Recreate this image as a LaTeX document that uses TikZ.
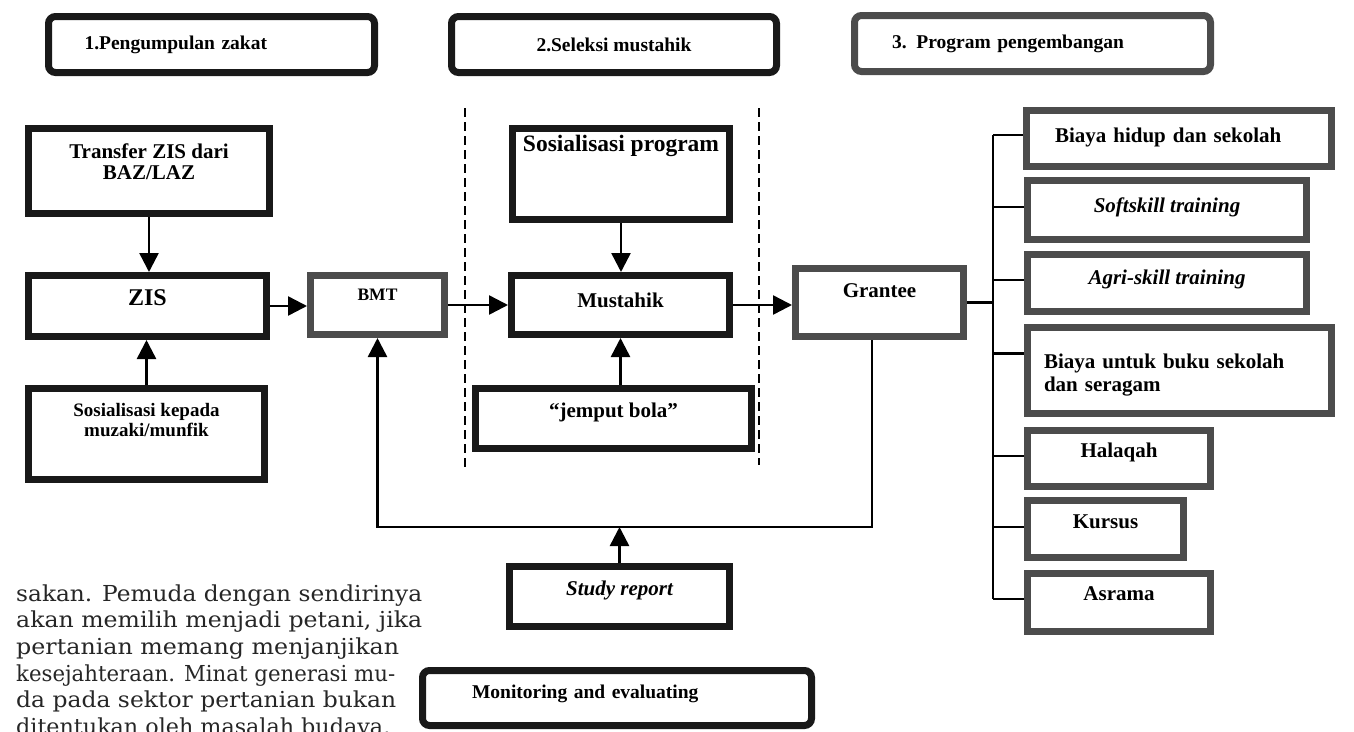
\documentclass[tikz,border=0pt]{standalone}
\usepackage{graphicx}
\usepackage{fontspec}
\setmainfont{Liberation Serif}
\newfontfamily\bodyfont{DejaVu Serif}
\usetikzlibrary{arrows.meta}

\definecolor{inkblack}{gray}{0.1}
\definecolor{edgegray}{gray}{0.3}
\newcommand{\fitline}[2]{\resizebox{#1}{\height}{#2}}

\begin{document}
\begin{tikzpicture}[x=1pt, y=-1pt, >={Triangle[length=19pt,width=19pt]}, blk/.style={draw=inkblack, line width=7pt, inner sep=0pt, align=center, font=\bfseries\fontsize{21}{21}\selectfont}, gry/.style={blk, draw=edgegray}, hdr/.style={blk, rounded corners=7pt, font=\bfseries\fontsize{19.5}{20}\selectfont}, itl/.style={font=\bfseries\itshape\fontsize{21}{21}\selectfont}, arr/.style={->, line width=2.5pt}, link/.style={line width=2.2pt}, sep/.style={line width=2pt, dash pattern=on 9pt off 5pt}]

\useasboundingbox (0,0) rectangle (1354,731);
\clip (0,0) rectangle (1354,731);

\node[hdr, minimum width=326pt, minimum height=56pt, text width=326pt, align=left] (h1) at (211.5,44.5) {\hspace*{36pt}1.Pengumpulan zakat};
\node[hdr, minimum width=325pt, minimum height=56pt] (h2) at (614,44.5) {2.Seleksi mustahik};
\node[hdr, draw=edgegray, minimum width=356pt, minimum height=56pt, text width=356pt, align=left] (h3) at (1032.5,43.5) {\hspace*{37.5pt}3. Program pengembangan};

\node[blk, minimum width=241pt, minimum height=85pt, text depth=18pt] (trans) at (149,171) {Transfer ZIS dari\\BAZ/LAZ};
\node[blk, minimum width=238pt, minimum height=61pt, text depth=16pt, font=\bfseries\fontsize{24}{24}\selectfont] (zis) at (147.5,306) {ZIS};
\node[blk, minimum width=236pt, minimum height=91pt, text depth=28pt, font=\bfseries\fontsize{19}{20}\selectfont] (soskep) at (146.5,434) {Sosialisasi kepada\\muzaki/munfik};
\node[gry, minimum width=134pt, minimum height=59pt, text depth=20pt, font=\bfseries\fontsize{17.5}{18}\selectfont] (bmt) at (377.5,305) {BMT};

\node[blk, minimum width=217pt, minimum height=91pt, text depth=62pt, font=\bfseries\fontsize{23.5}{24}\selectfont] (sosprog) at (621,174) {Sosialisasi program};
\node[blk, minimum width=218pt, minimum height=59pt, text depth=10pt] (must) at (620.5,305) {Mustahik};
\node[blk, minimum width=276pt, minimum height=60pt, text depth=16pt] (jemput) at (613.5,418.5) {“jemput bola”};
\node[gry, minimum width=168pt, minimum height=68pt, text depth=24pt] (grant) at (879.5,302.5) {Grantee};
\node[blk, itl, minimum width=220pt, minimum height=60pt, text depth=16pt] (study) at (619.5,596.5) {Study report};
\node[hdr, minimum width=389pt, minimum height=55pt, text width=389pt, align=left, text depth=12pt] (monit) at (617,698) {\hspace*{49.5pt}Monitoring and evaluating};

\node[gry, minimum width=305pt, minimum height=56pt, text width=305pt, align=left, text depth=7pt] (r1) at (1179,138.5) {\hspace*{28.5pt}Biaya hidup dan sekolah};
\node[gry, itl, minimum width=279pt, minimum height=59pt, text depth=10pt] (r2) at (1167,210) {Softskill training};
\node[gry, itl, minimum width=279pt, minimum height=57pt, text depth=12pt] (r3) at (1167,283) {Agri-skill training};
\node[gry, minimum width=304pt, minimum height=86pt, text width=304pt, align=left, text depth=18pt, font=\bfseries\fontsize{21}{23}\selectfont] (r4) at (1179.5,370.5) {\hspace*{16.5pt}Biaya untuk buku sekolah\\\hspace*{16.5pt}dan seragam};
\node[gry, minimum width=183pt, minimum height=56pt, text depth=16pt] (r5) at (1119,458.5) {Halaqah};
\node[gry, minimum width=156pt, minimum height=57pt, text depth=14pt] (r6) at (1105.5,529) {Kursus};
\node[gry, minimum width=183pt, minimum height=58pt, text depth=18pt] (r7) at (1119,602.5) {Asrama};

\node[anchor=base west, align=left, inner sep=0pt, text=black!85, font=\bodyfont\fontsize{22}{26.7}\selectfont] (para) at (16,734.5) {\fitline{406pt}{sakan. Pemuda dengan sendirinya}\\\fitline{406pt}{akan memilih menjadi petani, jika}\\\fitline{383pt}{pertanian memang menjanjikan}\\\fitline{379pt}{kesejahteraan. Minat generasi mu-}\\\fitline{380pt}{da pada sektor pertanian bukan}\\\fitline{374pt}{ditentukan oleh masalah budaya,}};

\draw[sep] (465,108) -- (465,467);
\draw[sep] (759,108) -- (759,465);

\path[arr]
 (trans.south) edge (trans.south |- zis.north)
 (soskep.north) edge (soskep.north |- zis.south)
 (zis.east) edge (zis.east -| bmt.west)
 (bmt.east) edge (bmt.east -| must.west)
 (sosprog.south) edge (sosprog.south |- must.north)
 (must.south |- jemput.north) edge (must.south)
 (must.east) edge (must.east -| grant.west);

\coordinate (fbr) at (872,527);
\coordinate (fbl) at (377.5,527);
\draw[arr] (grant.south -| fbr) -- (fbr) -- (fbl) -- (bmt.south);
\draw[arr] (study.north) -- (study.north |- fbl);

\coordinate (bus) at (993,0);
\draw[link] (grant.east) -- (grant.east -| bus);
\foreach \r/\d in {r1/3.5,r2/3,r3/3,r4/17,r5/2.5,r6/2,r7/3.5}{
 \path ([yshift=\d pt]\r.west) coordinate (b\r);
 \draw[link] (b\r -| bus) -- (b\r);
}
\draw[link] (br1 -| bus) -- (br7 -| bus);
\end{tikzpicture}
\end{document}
